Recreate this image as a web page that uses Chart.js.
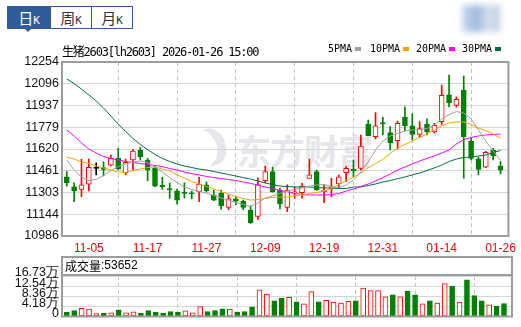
<!DOCTYPE html>
<html>
<head>
<meta charset="utf-8">
<script src="https://cdn.jsdelivr.net/npm/chart.js@4.4.1/dist/chart.umd.min.js"></script>
<style>
  body { margin: 0; width: 521px; height: 327px; overflow: hidden; position: relative; background: #fff; font-family: "Liberation Sans", Arial, sans-serif; }
  canvas { position: absolute; left: 0; top: 0; }
  .tabs { position: absolute; left: 7px; top: 6px; height: 21px; border: 1px solid #2f5b9b; display: flex; background: #fff; }
  .tab { height: 21px; line-height: 21px; text-align: center; color: #333; font: 15px "Noto Sans CJK SC", sans-serif; border-left: 1px solid #2f5b9b; box-sizing: border-box; }
  .tab:first-child { border-left: none; }
  .tab small { font: 11px "DejaVu Sans Mono", monospace; }
  .tab.on { background: #2f5b9b; color: #fff; }
  .tri { position: absolute; left: 24px; top: 28px; width: 0; height: 0; border-left: 4px solid transparent; border-right: 4px solid transparent; border-top: 4px solid #2f5b9b; }
  .title { position: absolute; left: 62px; top: 42px; font: 12px "DejaVu Sans Mono", "Noto Sans CJK SC", monospace; letter-spacing: -1.2px; color: #000; white-space: nowrap; }
  .lg { position: absolute; top: 43px; font: 10px "DejaVu Sans Mono", monospace; color: #000; white-space: nowrap; }
  .sw { position: absolute; top: 47px; width: 6px; height: 4px; }
  .wm { position: absolute; left: 236px; top: 124px; font: bold 35px "Noto Sans CJK SC", sans-serif; color: #e6e6eb; letter-spacing: -1px; }
  .logo { position: absolute; left: 196px; top: 128px; width: 30px; height: 38px; border-radius: 50%; box-shadow: inset -9px -2px 0 #e6e6eb; transform: rotate(-20deg); }
  .blur { position: absolute; left: 462px; top: 5px; width: 38px; height: 27px; background: linear-gradient(90deg, #c9d9ee, #9fb9dc 40%, #d8e2ee 70%, #b9c9de); filter: blur(3px); }
</style>
</head>
<body>
<div class="logo"></div>
<div class="wm">东方财富</div>
<canvas id="kline" width="521" height="258"></canvas>
<canvas id="vol" width="521" height="327"></canvas>
<div class="tabs">
  <div class="tab on" style="width:42px">日<small>K</small></div>
  <div class="tab" style="width:41px">周<small>K</small></div>
  <div class="tab" style="width:41px">月<small>K</small></div>
</div>
<div class="tri"></div>
<div class="blur"></div>
<div class="title">生猪2603[lh2603] 2026-01-26 15:00</div>
<div class="lg" style="left:328px">5PMA</div><div class="sw" style="left:355px;background:#a0a0a0"></div>
<div class="lg" style="left:370px">10PMA</div><div class="sw" style="left:403px;background:#f5a300"></div>
<div class="lg" style="left:416px">20PMA</div><div class="sw" style="left:449px;background:#ff00ff"></div>
<div class="lg" style="left:462px">30PMA</div><div class="sw" style="left:495px;background:#00703c"></div>
<script>
// datos
const dates = ['10-31','11-03','11-04','11-05','11-06','11-07','11-10','11-11','11-12','11-13',
  '11-14','11-17','11-18','11-19','11-20','11-21','11-24','11-25','11-26','11-27',
  '11-28','12-01','12-02','12-03','12-04','12-05','12-08','12-09','12-10','12-11',
  '12-12','12-15','12-16','12-17','12-18','12-19','12-22','12-23','12-24','12-25',
  '12-26','12-29','12-30','12-31','01-05','01-06','01-07','01-08','01-09','01-12',
  '01-13','01-14','01-15','01-16','01-19','01-20','01-21','01-22','01-23','01-26'];
const xTickIdx = [3, 11, 19, 27, 35, 43, 51, 59];
const yTicks = [10986, 11144, 11303, 11461, 11620, 11779, 11937, 12096, 12254];
const volTicks = [0, 41800, 83600, 125400, 167300];

const opens  = [11418,11345,11326,11363,11479,11484,11503,11552,11447,11540, 11613,11540,11479,11356,11332,11316,11304,11300,11309,11358,
  11285,11297,11194,11256,11238,11175,11128,11389,11456,11321, 11195,11300,11302,11406,11455,11309,11333,11365,11447,11472,
  11479,11802,11710,11812,11739,11681,11851,11788,11727,11802, 11744,11820,12014,11937,12049,11675,11549,11487,11611,11496];
const closes = [11374,11316,11358,11487,11479,11472,11552,11474,11523,11605, 11564,11467,11350,11345,11321,11248,11297,11294,11365,11314,
  11248,11205,11256,11239,11195,11083,11358,11455,11309,11219, 11321,11307,11350,11431,11321,11321,11345,11418,11479,11462,
  11642,11715,11788,11802,11666,11807,11790,11727,11769,11747, 11793,12012,11955,11982,11710,11551,11471,11596,11569,11465];
const highs  = [11455,11374,11545,11547,11520,11527,11576,11625,11547,11618, 11632,11552,11496,11414,11372,11326,11374,11314,11414,11380,
  11321,11321,11285,11272,11248,11205,11409,11496,11489,11336, 11358,11345,11370,11547,11467,11358,11406,11431,11491,11540,
  11722,11831,11885,11851,11783,11824,11928,11877,11820,11839, 11807,12086,12159,12000,12152,11697,11562,11603,11625,11529];
const lows   = [11350,11236,11272,11314,11431,11423,11496,11467,11431,11467, 11540,11389,11345,11326,11259,11219,11261,11256,11236,11305,
  11243,11181,11177,11214,11177,11078,11106,11374,11305,11183, 11163,11261,11261,11406,11318,11229,11272,11334,11382,11414,
  11467,11715,11693,11722,11613,11620,11753,11686,11707,11722, 11738,11799,11926,11924,11407,11540,11432,11484,11540,11439];

const ma5  = [11540,11467,11416,11390,11398,11427,11463,11492,11511,11525, 11533,11522,11489,11452,11412,11376,11343,11325,11310,11299,
  11281,11263,11248,11230,11216,11201,11227,11263,11278,11296, 11314,11325,11336,11350,11358,11361,11347,11336,11358,11394,
  11452,11525,11613,11678,11715,11733,11751,11759,11762,11769, 11795,11839,11871,11893,11882,11839,11759,11678,11606,11536];
const ma10 = [11560,11547,11525,11514,11496,11482,11467,11452,11449,11463, 11474,11485,11489,11474,11460,11431,11409,11383,11365,11347,
  11329,11310,11292,11274,11259,11248,11252,11259,11267,11270, 11270,11278,11288,11296,11303,11314,11332,11361,11387,11416,
  11445,11482,11514,11544,11587,11627,11653,11678,11704,11729, 11759,11788,11810,11817,11817,11799,11773,11755,11729,11700];
const ma20 = [11759,11715,11664,11620,11591,11565,11551,11540,11529,11522, 11514,11507,11500,11492,11478,11467,11452,11441,11431,11420,
  11412,11405,11398,11390,11380,11369,11358,11343,11332,11318, 11307,11296,11288,11285,11285,11285,11288,11296,11314,11329,
  11347,11365,11387,11412,11438,11467,11489,11511,11533,11551, 11569,11591,11613,11656,11689,11704,11715,11722,11726,11729];
const ma30 = [12130,12097,12057,12014,11970,11919,11860,11802,11748,11697, 11653,11616,11580,11551,11529,11511,11496,11485,11474,11467,
  11456,11445,11434,11423,11412,11401,11387,11372,11361,11350, 11347,11343,11343,11343,11339,11336,11336,11332,11332,11343,
  11343,11354,11365,11380,11390,11404,11416,11431,11445,11463, 11482,11503,11529,11547,11558,11562,11569,11576,11595,11609];

const vols = [17100,24400,33800,30200,12000,13500,15600,28000,15600,19300, 13500,24400,17100,13500,20600,17100,23000,15600,41100,20600,
  24400,31500,30200,18200,20600,38800,110300,92100,64300,75200, 78800,60600,52100,103000,60600,66700,59400,55800,63000,64300,
  117600,106700,106700,81200,89700,81200,104300,89700,52100,64300, 55800,135800,126100,59400,151600,86100,64300,48500,42400,53652];
// 1 = barra roja (sube), 0 = verde
const volUp = [0,0,1,1,1,0,1,0,1,1, 0,0,0,0,0,0,1,1,1,0, 0,0,1,0,0,0,1,1,0,0,
  1,0,1,1,0,1,1,1,1,0, 1,1,1,1,0,1,0,0,1,0, 1,1,0,1,0,0,0,1,0,0];

const RED = '#ff0000', GREEN = '#008000', GRID = '#d6d6d6', VGRID = '#c4c4c4';
const axisFont = { family: '"Liberation Sans", Arial, sans-serif', size: 12.5 };

function colorVela(i) {
    if (closes[i] > opens[i]) return RED;
    if (closes[i] < opens[i]) return GREEN;
    return '#000000';
}

// marco gris alrededor del area de dibujo
const marcoPlugin = {
    id: 'marco',
    afterDraw(chart, args, opts) {
        const { ctx, chartArea: a } = chart;
        const top = opts.top !== undefined ? opts.top : a.top;
        ctx.save();
        ctx.strokeStyle = '#9c9c9c';
        ctx.lineWidth = 2;
        ctx.strokeRect(a.left, top, a.right - a.left, a.bottom - top);
        if (opts.header) {
            ctx.beginPath();
            ctx.moveTo(a.left, a.top - 1);
            ctx.lineTo(a.right, a.top - 1);
            ctx.stroke();
            ctx.fillStyle = '#000';
            ctx.textBaseline = 'middle';
            ctx.font = '12px "Noto Sans CJK SC", sans-serif';
            ctx.fillText('成交量', a.left + 3, 266);
            const w = ctx.measureText('成交量').width;
            ctx.font = '12px "Liberation Sans", Arial, sans-serif';
            ctx.fillText(':' + vols[vols.length - 1], a.left + 3 + w, 266);
        }
        ctx.restore();
    }
};

function ejeX(showTicks) {
    return {
        type: 'linear', min: -0.65, max: 60.08, offset: false,
        afterBuildTicks: s => { s.ticks = xTickIdx.map(v => ({ value: v })); },
        afterFit: s => { s.height = showTicks ? 22 : 6; },
        grid: { color: VGRID, drawTicks: false, lineWidth: 1 },
        border: { display: false, dash: [4, 3] },
        ticks: { display: showTicks, autoSkip: false, maxRotation: 0, padding: 5, color: RED,
            font: { family: '"Liberation Sans", Arial, sans-serif', size: 12 },
            callback: v => dates[v] }
    };
}

// --- GRAFICO DE VELAS ---
const idx = dates.map((d, i) => i);
new Chart(document.getElementById('kline'), {
    type: 'bar',
    data: {
        datasets: [
            { type: 'line', data: idx.map(i => ({ x: i, y: ma5[i] })), borderColor: '#a0a0a0', borderWidth: 1, pointRadius: 0 },
            { type: 'line', data: idx.map(i => ({ x: i, y: ma10[i] })), borderColor: '#f5a300', borderWidth: 1, pointRadius: 0 },
            { type: 'line', data: idx.map(i => ({ x: i, y: ma20[i] })), borderColor: '#ff00ff', borderWidth: 1, pointRadius: 0 },
            { type: 'line', data: idx.map(i => ({ x: i, y: ma30[i] })), borderColor: '#00703c', borderWidth: 1, pointRadius: 0 },
            {
                data: idx.map(i => ({ x: i, y: [opens[i], closes[i]] })),
                grouped: false, barThickness: 5, minBarLength: 1, borderWidth: 1, borderSkipped: false,
                borderColor: idx.map(colorVela),
                backgroundColor: idx.map(i => closes[i] > opens[i] ? '#ffffff' : colorVela(i))
            },
            {
                data: idx.map(i => ({ x: i, y: [lows[i], highs[i]] })),
                grouped: false, barThickness: 1, borderWidth: 0,
                backgroundColor: idx.map(colorVela)
            }
        ]
    },
    options: {
        responsive: false, animation: false, devicePixelRatio: 1,
        layout: { padding: { top: 62, right: 9, left: 0, bottom: 0 } },
        plugins: { legend: { display: false }, tooltip: { enabled: false }, marco: {} },
        scales: {
            x: ejeX(true),
            y: {
                min: 10986, max: 12254,
                afterBuildTicks: s => { s.ticks = yTicks.map(v => ({ value: v })); },
                afterFit: s => { s.width = 62; },
                grid: { color: GRID, drawTicks: false },
                border: { display: false },
                ticks: { autoSkip: false, padding: 3, color: '#111', font: axisFont, callback: v => String(v) }
            }
        }
    },
    plugins: [marcoPlugin]
});

// --- GRAFICO DE VOLUMEN ---
new Chart(document.getElementById('vol'), {
    type: 'bar',
    data: {
        datasets: [{
            data: idx.map(i => ({ x: i, y: vols[i] })),
            barThickness: 5, borderWidth: 1, borderSkipped: false,
            borderColor: volUp.map(u => u ? RED : GREEN),
            backgroundColor: volUp.map(u => u ? '#ffffff' : GREEN)
        }]
    },
    options: {
        responsive: false, animation: false, devicePixelRatio: 1,
        layout: { padding: { top: 276, right: 9, left: 0, bottom: 0 } },
        plugins: { legend: { display: false }, tooltip: { enabled: false }, marco: { top: 257, header: true } },
        scales: {
            x: ejeX(false),
            y: {
                min: 0, max: 167300,
                afterBuildTicks: s => { s.ticks = volTicks.map(v => ({ value: v })); },
                afterFit: s => { s.width = 62; },
                grid: { color: GRID, drawTicks: false },
                border: { display: false },
                ticks: { autoSkip: false, padding: 3, labelOffset: -3, color: '#111', font: axisFont,
                    callback: v => v === 0 ? '0' : (v / 10000).toFixed(2) + '万' }
            }
        }
    },
    plugins: [marcoPlugin]
});
</script>
</body>
</html>
